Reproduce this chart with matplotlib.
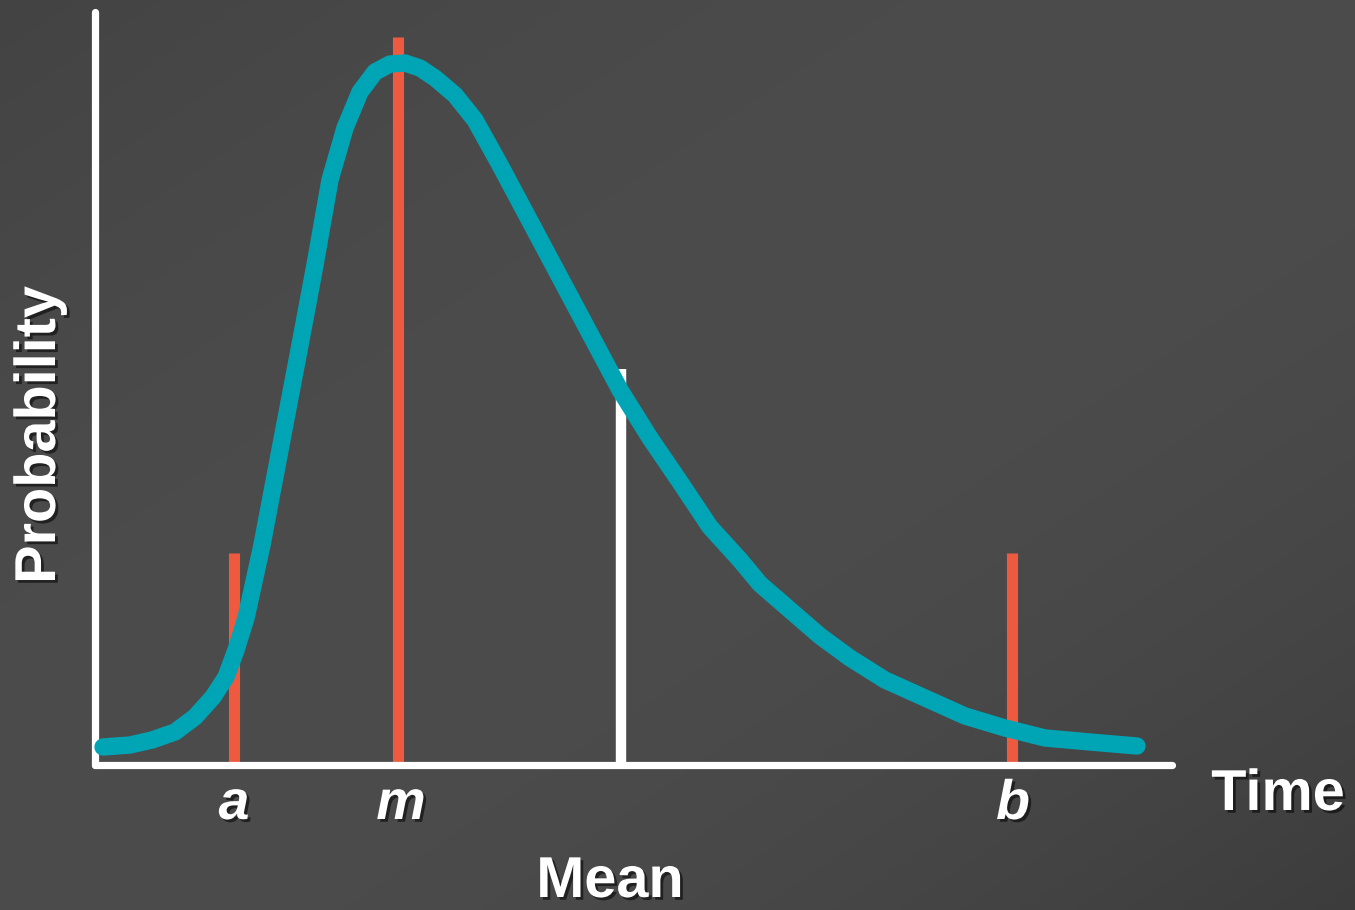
#!/usr/bin/env python3
"""PERT-style skewed distribution: a, m, b and mean markers."""

import numpy as np
import matplotlib.pyplot as plt
import matplotlib.patheffects as pe

W, H = 1355, 910

# curve (pixel coords, y down)
curve_x = [103, 130, 152, 175, 195, 213, 226, 236, 246, 262, 280, 300, 315, 330,
           345, 360, 375, 390, 405, 420, 435, 455, 475, 500, 540, 580, 620, 650,
           680, 710, 740, 760, 790, 820, 850, 885, 925, 965, 1005, 1045, 1090, 1137]
curve_y = [747, 745, 740, 732, 717, 697, 677, 650, 618, 545, 450, 345, 265, 180,
           128, 92, 72, 64, 63, 68, 78, 95, 120, 165, 240, 315, 390, 438,
           482, 527, 560, 584, 610, 636, 658, 680, 698, 716, 728, 738, 742, 746]

# markers: label, x, top of bar
markers = ["a", "m", "b"]
marker_x = [234, 398, 1012]
label_x = [234, 401, 1013]
marker_top = [553, 37, 553]
mean_x = 621
mean_top = 369

base_y = 762
axis_x0, axis_y0 = 95, 765
axis_top, axis_right = 12, 1172

TEAL = "#00A5B5"
RED = "#EE5A40"
FONT = ["Liberation Sans", "DejaVu Sans"]

fig = plt.figure(figsize=(W / 100, H / 100), dpi=100)
ax = fig.add_axes([0, 0, 1, 1])
ax.set_xlim(0, W)
ax.set_ylim(H, 0)
ax.axis("off")

# background: light band along the anti-diagonal, darker corners
yy, xx = np.mgrid[0:H, 0:W]
s = xx / W + yy / H - 1
v = np.where(s < 0, 76 - 9 * s ** 2, 76 - 16 * s ** 2) / 255
bg = np.dstack([v, v, v])
ax.imshow(np.clip(bg, 0, 1), extent=(0, W, H, 0), zorder=0, aspect="auto")

shadow = [pe.SimplePatchShadow(offset=(2, -2), alpha=0.55, shadow_rgbFace="black"),
          pe.Normal()]

# axes lines
ax.plot([axis_x0, axis_x0], [axis_top, axis_y0], color="white", lw=5.2,
        solid_capstyle="round", zorder=3)
ax.plot([axis_x0, axis_right], [axis_y0, axis_y0], color="white", lw=5.2,
        solid_capstyle="round", zorder=3)

# red a / m / b bars
for lab, x, lx, top in zip(markers, marker_x, label_x, marker_top):
    ax.plot([x, x], [top, base_y], color=RED, lw=8, solid_capstyle="butt", zorder=2)
    ax.text(lx, 805, lab, color="white", fontsize=40, fontweight="bold",
            fontstyle="italic", family=FONT, ha="center", va="center",
            path_effects=shadow, zorder=5)

# mean bar
ax.plot([mean_x, mean_x], [mean_top, base_y], color="white", lw=7.5,
        solid_capstyle="butt", zorder=2)

# distribution curve
ax.plot(curve_x, curve_y, color=TEAL, lw=12.5, solid_capstyle="round",
        solid_joinstyle="round", zorder=4)

ax.text(40, 435, "Probability", rotation=90, color="white", fontsize=41.5,
        fontweight="bold", family=FONT, ha="center", va="center",
        path_effects=shadow, zorder=5)
ax.text(1278, 795, "Time", color="white", fontsize=41.5, fontweight="bold",
        family=FONT, ha="center", va="center", path_effects=shadow, zorder=5)
ax.text(610, 882, "Mean", color="white", fontsize=41.5, fontweight="bold",
        family=FONT, ha="center", va="center", path_effects=shadow, zorder=5)

fig.savefig("out.png", dpi=100)
